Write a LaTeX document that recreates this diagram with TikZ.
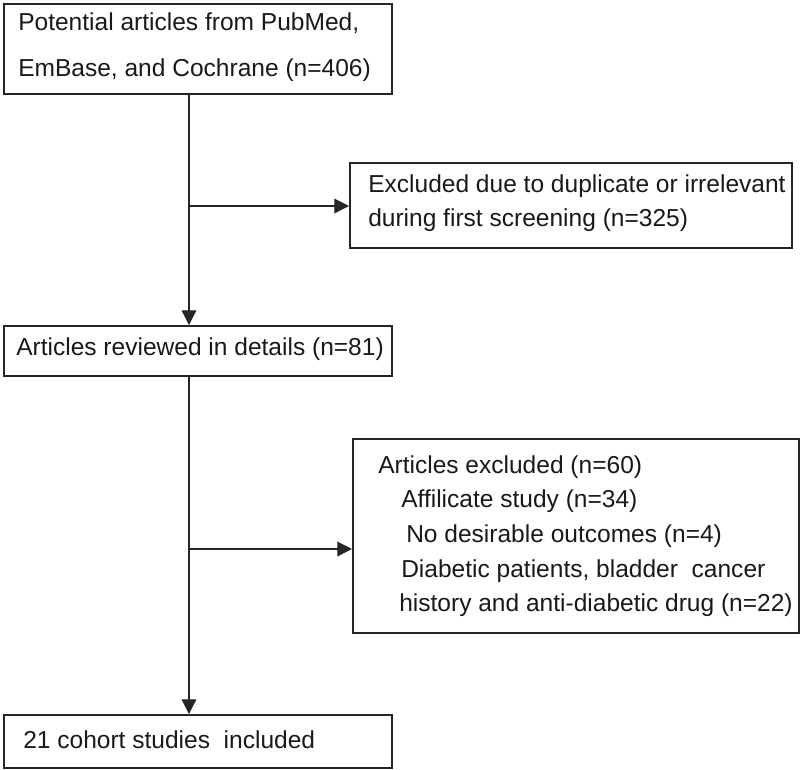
\documentclass[tikz,border=0pt]{standalone}
\usepackage{fontspec}
\setmainfont{Liberation Sans}
\usetikzlibrary{arrows.meta}
\begin{document}
\begin{tikzpicture}[x=0.75pt,y=-0.75pt,
  box/.style={draw=black!85,line width=1.6pt,rectangle,inner sep=0pt,anchor=north west},
  txt/.style={anchor=base west,inner sep=0pt,font=\fontsize{18.4}{22}\selectfont,text=black!90},
  conn/.style={draw=black!85,line width=0.9pt},
  arr/.style={conn,-{Triangle[length=11pt,width=11pt]}}]
\useasboundingbox (0,0) rectangle (800,769);
% boxes
\node[box,minimum width=388*0.75pt,minimum height=90*0.75pt] (b1) at (3,3) {};
\node[box,minimum width=442*0.75pt,minimum height=85*0.75pt] (e1) at (349,162) {};
\node[box,minimum width=388*0.75pt,minimum height=50*0.75pt] (b2) at (3,325) {};
\node[box,minimum width=446*0.75pt,minimum height=194*0.75pt] (e2) at (352,438) {};
\node[box,minimum width=388*0.75pt,minimum height=53*0.75pt] (b3) at (3,714) {};
% texts
\node[txt] (t11) at (18,30) {Potential articles from PubMed,};
\node[txt] (t12) at (18,76) {EmBase, and Cochrane (n=406)};
\node[txt] (t21) at (368,192) {Excluded due to duplicate or irrelevant};
\node[txt] (t22) at (368,226) {during first screening (n=325)};
\node[txt] (t3) at (16,355) {Articles reviewed in details (n=81)};
\node[txt] (t41) at (378,473) {Articles excluded (n=60)};
\node[txt] (t42) at (401,507) {Affilicate study (n=34)};
\node[txt] (t43) at (406,542) {No desirable outcomes (n=4)};
\node[txt] (t44) at (401,577) {Diabetic patients, bladder\ \ cancer};
\node[txt] (t45) at (399,611) {history and anti-diabetic drug (n=22)};
\node[txt] (t5) at (23,748) {21 cohort studies\ \ included};
% connectors
\coordinate (j1) at (189,206);
\coordinate (j2) at (189,549);
\draw[arr] (b1.south -| j1) -- (b2.north -| j1);
\draw[arr] (j1) -- (j1 -| e1.west);
\draw[arr] (b2.south -| j2) -- (b3.north -| j2);
\draw[arr] (j2) -- (j2 -| e2.west);
\end{tikzpicture}
\end{document}
